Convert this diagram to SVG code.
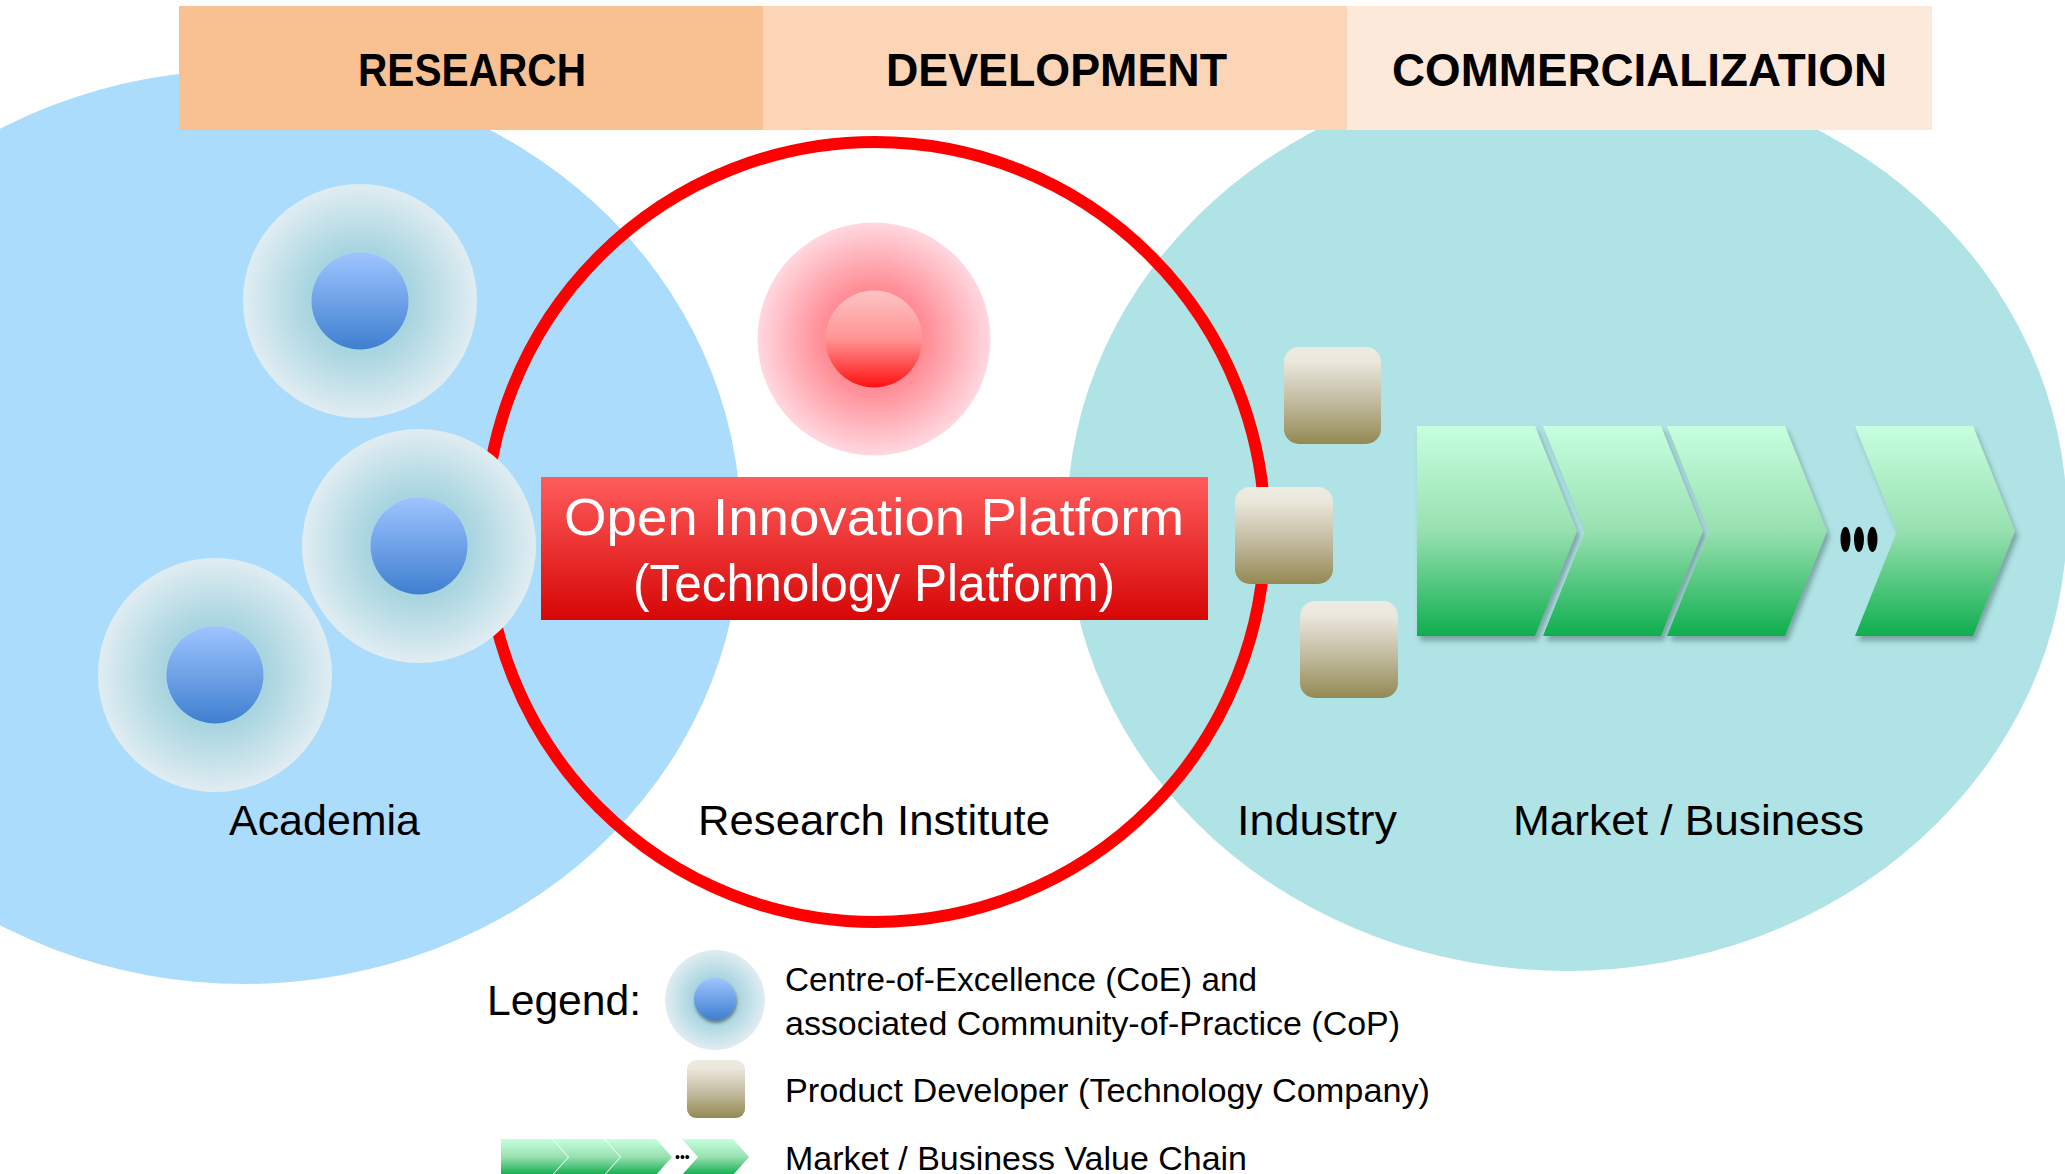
<svg xmlns="http://www.w3.org/2000/svg" xmlns:xlink="http://www.w3.org/1999/xlink" width="2065" height="1174" viewBox="0 0 2065 1174">
  <style>
    .hdr { font-family: "Liberation Sans", Arial, sans-serif; font-weight: bold; font-size: 47px; fill: #000; }
    .lbl { font-family: "Liberation Sans", Arial, sans-serif; font-size: 42px; fill: #000; }
    .oip { font-family: "Liberation Sans", Arial, sans-serif; font-size: 52px; fill: #fff; }
    .leg { font-family: "Liberation Sans", Arial, sans-serif; font-size: 33px; fill: #000; }
    .dots { font-family: "Liberation Sans", Arial, sans-serif; fill: #000; }
    .ring { fill: none; stroke: #ff0000; stroke-width: 12; }
    .coeOuter { fill: url(#gCoeOuter); }
    .coeInner { fill: url(#gCoeInner); }
    .pd { fill: url(#gTan); }
    .vc { fill: url(#gGreen); }
  </style>
  <defs>
    <radialGradient id="gCoeOuter" cx="0.5" cy="0.5" r="0.5">
      <stop offset="0" stop-color="#a4d1de"/>
      <stop offset="0.45" stop-color="#a9d5e0"/>
      <stop offset="1" stop-color="#e0edf2"/>
    </radialGradient>
    <linearGradient id="gCoeInner" x1="0" y1="0" x2="0" y2="1">
      <stop offset="0" stop-color="#9ec4ff"/>
      <stop offset="1" stop-color="#3f7fd0"/>
    </linearGradient>
    <radialGradient id="gRedOuter" cx="0.5" cy="0.5" r="0.5">
      <stop offset="0" stop-color="#ff7c84"/>
      <stop offset="0.45" stop-color="#ff8e97"/>
      <stop offset="1" stop-color="#ffd8e0"/>
    </radialGradient>
    <linearGradient id="gRedInner" x1="0" y1="0" x2="0" y2="1">
      <stop offset="0" stop-color="#ffc4c4"/>
      <stop offset="0.5" stop-color="#ff9494"/>
      <stop offset="1" stop-color="#ff0f0f"/>
    </linearGradient>
    <linearGradient id="gOip" x1="0" y1="0" x2="0" y2="1">
      <stop offset="0" stop-color="#ff5c5c"/>
      <stop offset="1" stop-color="#d60606"/>
    </linearGradient>
    <linearGradient id="gTan" x1="0" y1="0" x2="0" y2="1">
      <stop offset="0" stop-color="#eeece2"/>
      <stop offset="0.15" stop-color="#eae7dc"/>
      <stop offset="0.55" stop-color="#c3bca2"/>
      <stop offset="1" stop-color="#948952"/>
    </linearGradient>
    <linearGradient id="gGreen" x1="0" y1="0" x2="0" y2="1">
      <stop offset="0" stop-color="#c6ffdf"/>
      <stop offset="0.5" stop-color="#98e0b0"/>
      <stop offset="1" stop-color="#0fae4e"/>
    </linearGradient>
    <filter id="fShadow" x="-10%" y="-10%" width="125%" height="125%">
      <feDropShadow dx="3" dy="5" stdDeviation="2.5" flood-color="#3c5a5c" flood-opacity="0.45"/>
    </filter>
    <filter id="fSmallShadow" x="-30%" y="-30%" width="160%" height="170%">
      <feDropShadow dx="1" dy="3" stdDeviation="1.5" flood-color="#203040" flood-opacity="0.5"/>
    </filter>
    <path id="homeBig" d="M0,0 H118 L160,105 L118,210 H0 Z"/>
    <path id="chevBig" d="M0,0 H118 L160,105 L118,210 H0 L42,105 Z"/>
    <path id="homeSmall" d="M0,0 H51 L67,18 L51,36 H0 Z"/>
    <path id="chevSmall" d="M0,0 H51 L67,18 L51,36 H0 L16,18 Z"/>
  </defs>

  <rect x="0" y="0" width="2065" height="1174" fill="#ffffff"/>

  <!-- domain areas -->
  <g id="area-academia">
    <ellipse cx="244" cy="527" rx="497" ry="457" fill="#acdcfc"/>
  </g>
  <g id="area-industry">
    <ellipse cx="1567" cy="520" rx="500" ry="451" fill="#b0e3e5"/>
  </g>

  <!-- phase header -->
  <g id="header">
    <g id="hdr-research">
      <rect x="179" y="6" width="584" height="124" fill="#f9c192"/>
      <text class="hdr" x="358" y="86" textLength="228" lengthAdjust="spacingAndGlyphs">RESEARCH</text>
    </g>
    <g id="hdr-development">
      <rect x="763" y="6" width="584" height="124" fill="#fbd5b6"/>
      <text class="hdr" x="886" y="86" textLength="341" lengthAdjust="spacingAndGlyphs">DEVELOPMENT</text>
    </g>
    <g id="hdr-commercialization">
      <rect x="1347" y="6" width="585" height="124" fill="#fde9da"/>
      <text class="hdr" x="1392" y="86" textLength="495" lengthAdjust="spacingAndGlyphs">COMMERCIALIZATION</text>
    </g>
  </g>

  <!-- research institute ring -->
  <g id="research-institute">
    <circle class="ring" cx="875" cy="532" r="390"/>
  </g>

  <!-- Centres of excellence in academia -->
  <g id="coe-1">
    <circle class="coeOuter" cx="360" cy="301" r="117"/>
    <circle class="coeInner" cx="360" cy="301" r="48.5"/>
  </g>
  <g id="coe-2">
    <circle class="coeOuter" cx="419" cy="546" r="117"/>
    <circle class="coeInner" cx="419" cy="546" r="48.5"/>
  </g>
  <g id="coe-3">
    <circle class="coeOuter" cx="215" cy="675" r="117"/>
    <circle class="coeInner" cx="215" cy="675" r="48.5"/>
  </g>

  <!-- research institute CoE -->
  <g id="coe-ri">
    <circle cx="874" cy="339" r="116.5" fill="url(#gRedOuter)"/>
    <circle cx="874" cy="339" r="48.5" fill="url(#gRedInner)"/>
  </g>

  <!-- open innovation platform -->
  <g id="oip">
    <rect x="541" y="477" width="667" height="143" fill="url(#gOip)"/>
    <text class="oip" x="564" y="535" textLength="620" lengthAdjust="spacingAndGlyphs">Open Innovation Platform</text>
    <text class="oip" x="633" y="601" textLength="482" lengthAdjust="spacingAndGlyphs">(Technology Platform)</text>
  </g>

  <!-- product developers -->
  <g id="pd-1"><rect class="pd" x="1284" y="347" width="97" height="97" rx="15"/></g>
  <g id="pd-2"><rect class="pd" x="1235" y="487" width="98" height="97" rx="15"/></g>
  <g id="pd-3"><rect class="pd" x="1300" y="601" width="98" height="97" rx="15"/></g>

  <!-- value chain -->
  <g id="value-chain" filter="url(#fShadow)">
    <g id="vc-1"><use xlink:href="#homeBig" class="vc" x="1417" y="426"/></g>
    <g id="vc-2"><use xlink:href="#chevBig" class="vc" x="1543" y="426"/></g>
    <g id="vc-3"><use xlink:href="#chevBig" class="vc" x="1667" y="426"/></g>
    <g id="vc-4"><use xlink:href="#chevBig" class="vc" x="1855" y="426"/></g>
  </g>
  <g id="vc-dots" transform="translate(0,536) scale(1,2.5)">
    <text class="dots" x="1839" y="13.5" font-size="37" textLength="40" lengthAdjust="spacing">•••</text>
  </g>

  <!-- labels -->
  <g id="labels">
    <text class="lbl" x="229" y="835" textLength="191" lengthAdjust="spacingAndGlyphs">Academia</text>
    <text class="lbl" x="698" y="835" textLength="352" lengthAdjust="spacingAndGlyphs">Research Institute</text>
    <text class="lbl" x="1237" y="835" textLength="160" lengthAdjust="spacingAndGlyphs">Industry</text>
    <text class="lbl" x="1513" y="835" textLength="351" lengthAdjust="spacingAndGlyphs">Market / Business</text>
  </g>

  <!-- connectors (none in this diagram) -->
  <g id="connectors"></g>

  <!-- legend -->
  <g id="legend">
    <text class="lbl" x="487" y="1015" textLength="154" lengthAdjust="spacingAndGlyphs">Legend:</text>
    <g id="legend-coe">
      <circle class="coeOuter" cx="715" cy="1000" r="50"/>
      <circle class="coeInner" cx="715" cy="999" r="21" filter="url(#fSmallShadow)"/>
    </g>
    <text class="leg" x="785" y="991" textLength="472" lengthAdjust="spacingAndGlyphs">Centre-of-Excellence (CoE) and</text>
    <text class="leg" x="785" y="1035" textLength="615" lengthAdjust="spacingAndGlyphs">associated Community-of-Practice (CoP)</text>
    <g id="legend-pd">
      <rect class="pd" x="687" y="1060" width="58" height="58" rx="9"/>
    </g>
    <text class="leg" x="785" y="1102" textLength="645" lengthAdjust="spacingAndGlyphs">Product Developer (Technology Company)</text>
    <g id="legend-vc">
      <use xlink:href="#homeSmall" class="vc" x="501" y="1139"/>
      <use xlink:href="#chevSmall" class="vc" x="553" y="1139"/>
      <use xlink:href="#chevSmall" class="vc" x="605" y="1139"/>
      <use xlink:href="#chevSmall" class="vc" x="682" y="1139"/>
      <text class="dots" x="675" y="1162" font-size="14">•••</text>
    </g>
    <text class="leg" x="785" y="1170" textLength="462" lengthAdjust="spacingAndGlyphs">Market / Business Value Chain</text>
  </g>
</svg>
